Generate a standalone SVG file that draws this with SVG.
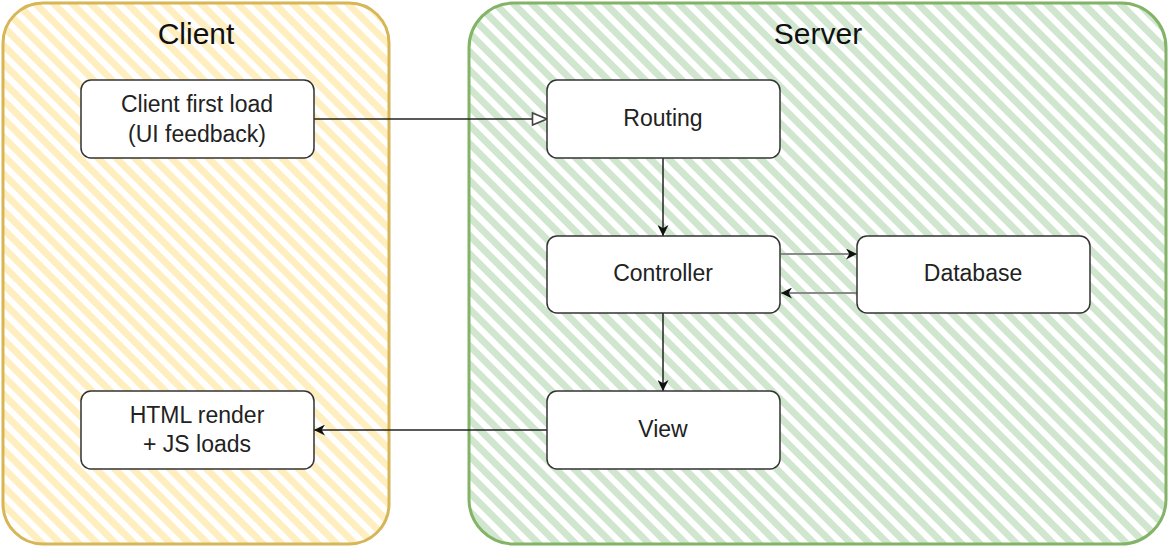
<svg xmlns="http://www.w3.org/2000/svg" width="1170" height="548" viewBox="0 0 1170 548">
<style>
.node rect{fill:#fff;stroke:#333;stroke-width:1.5}
.node text,.title{font-family:"Liberation Sans",Arial,sans-serif;fill:#222;text-anchor:middle}
.node text{font-size:23px}
.title{font-size:30px;fill:#111}
.conn{fill:none;stroke:#222;stroke-width:1.5}
.conn.gray{stroke:#8a8a8a;stroke-width:2}
</style>
<defs>
<pattern id="hatchY" patternUnits="userSpaceOnUse" width="13" height="13" patternTransform="rotate(45)">
<rect width="13" height="13" fill="#fff"/>
<rect width="13" height="7" fill="#ffeebf"/>
</pattern>
<pattern id="hatchG" patternUnits="userSpaceOnUse" width="13" height="13" patternTransform="rotate(45)">
<rect width="13" height="13" fill="#fff"/>
<rect width="13" height="7" fill="#d0e6cf"/>
</pattern>
<marker id="filled" viewBox="0 0 10 10" refX="10" refY="5" markerWidth="11" markerHeight="11" markerUnits="userSpaceOnUse" orient="auto">
<path d="M0,0 L10,5 L0,10 L3,5 Z" fill="#111"/>
</marker>
<marker id="open" viewBox="0 0 17 15" refX="16" refY="7.5" markerWidth="17" markerHeight="15" markerUnits="userSpaceOnUse" orient="auto">
<path d="M1.5,1.5 L16,7.5 L1.5,13.5 Z" fill="#fff" stroke="#444" stroke-width="1.6"/>
</marker>
</defs>
<g id="client-container">
<rect x="3" y="3" width="386" height="541" rx="40" fill="url(#hatchY)" stroke="#d6b656" stroke-width="3"/>
<text class="title" x="196" y="44">Client</text>
</g>
<g id="server-container">
<rect x="469" y="3" width="697" height="541" rx="45" fill="url(#hatchG)" stroke="#82b366" stroke-width="3"/>
<text class="title" x="818" y="44">Server</text>
</g>
<g id="connectors">
<path class="conn" d="M314,119 L547,119" marker-end="url(#open)"/>
<path class="conn" d="M663,158 L663,236" marker-end="url(#filled)"/>
<path class="conn gray" d="M781,254 L857,254" marker-end="url(#filled)"/>
<path class="conn gray" d="M857,293 L781,293" marker-end="url(#filled)"/>
<path class="conn" d="M663,313 L663,391" marker-end="url(#filled)"/>
<path class="conn" d="M547,430 L314,430" marker-end="url(#filled)"/>
</g>
<g id="client-first-load" class="node">
<rect x="81" y="80" width="233" height="78" rx="10"/>
<text x="197" y="112">Client first load</text>
<text x="197" y="142">(UI feedback)</text>
</g>
<g id="routing" class="node">
<rect x="547" y="80" width="233" height="78" rx="10"/>
<text x="663" y="126">Routing</text>
</g>
<g id="controller" class="node">
<rect x="547" y="236" width="233" height="77" rx="10"/>
<text x="663" y="281">Controller</text>
</g>
<g id="database" class="node">
<rect x="857" y="236" width="233" height="77" rx="10"/>
<text x="973" y="281">Database</text>
</g>
<g id="view" class="node">
<rect x="547" y="391" width="233" height="78" rx="10"/>
<text x="663" y="437">View</text>
</g>
<g id="html-render" class="node">
<rect x="81" y="391" width="233" height="78" rx="10"/>
<text x="197" y="423">HTML render</text>
<text x="197" y="452">+ JS loads</text>
</g>
</svg>
